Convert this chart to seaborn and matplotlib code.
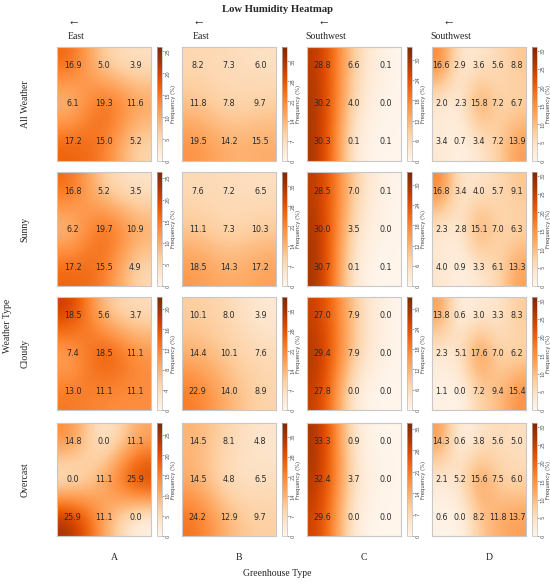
import numpy as np
import pandas as pd
import matplotlib
matplotlib.use("Agg")
import matplotlib.pyplot as plt
import seaborn as sns

# ---------------- data ----------------
weather_types = ["All Weather", "Sunny", "Cloudy", "Overcast"]
greenhouse_types = ["A", "B", "C", "D"]
directions = ["East", "East", "Southwest", "Southwest"]

freq_A = [
    [[16.9, 5.0, 3.9], [6.1, 19.3, 11.6], [17.2, 15.0, 5.2]],
    [[16.8, 5.2, 3.5], [6.2, 19.7, 10.9], [17.2, 15.5, 4.9]],
    [[18.5, 5.6, 3.7], [7.4, 18.5, 11.1], [13.0, 11.1, 11.1]],
    [[14.8, 0.0, 11.1], [0.0, 11.1, 25.9], [25.9, 11.1, 0.0]],
]
freq_B = [
    [[8.2, 7.3, 6.0], [11.8, 7.8, 9.7], [19.5, 14.2, 15.5]],
    [[7.6, 7.2, 6.5], [11.1, 7.3, 10.3], [18.5, 14.3, 17.2]],
    [[10.1, 8.0, 3.9], [14.4, 10.1, 7.6], [22.9, 14.0, 8.9]],
    [[14.5, 8.1, 4.8], [14.5, 4.8, 6.5], [24.2, 12.9, 9.7]],
]
freq_C = [
    [[28.8, 6.6, 0.1], [30.2, 4.0, 0.0], [30.3, 0.1, 0.1]],
    [[28.5, 7.0, 0.1], [30.0, 3.5, 0.0], [30.7, 0.1, 0.1]],
    [[27.0, 7.9, 0.0], [29.4, 7.9, 0.0], [27.8, 0.0, 0.0]],
    [[33.3, 0.9, 0.0], [32.4, 3.7, 0.0], [29.6, 0.0, 0.0]],
]
freq_D = [
    [[16.6, 2.9, 3.6, 5.6, 8.8], [2.0, 2.3, 15.8, 7.2, 6.7], [3.4, 0.7, 3.4, 7.2, 13.9]],
    [[16.8, 3.4, 4.0, 5.7, 9.1], [2.3, 2.8, 15.1, 7.0, 6.3], [4.0, 0.9, 3.3, 6.1, 13.3]],
    [[13.8, 0.6, 3.0, 3.3, 8.3], [2.3, 5.1, 17.6, 7.0, 6.2], [1.1, 0.0, 7.2, 9.4, 15.4]],
    [[14.3, 0.6, 3.8, 5.6, 5.0], [2.1, 5.2, 15.6, 7.5, 6.0], [0.6, 0.0, 8.2, 11.8, 13.7]],
]
freq = {"A": freq_A, "B": freq_B, "C": freq_C, "D": freq_D}

# colour-scale ranges and colorbar ticks per panel (style)
vmax_tab = {
    "A": [26.0, 26.4, 22.4, 28.0],
    "B": [40.0, 40.0, 40.0, 40.0],
    "C": [33.8, 33.8, 33.4, 37.0],
    "D": [31.0, 31.0, 31.0, 31.0],
}
tick_tab = {
    "A": [np.arange(0, 26, 5), np.arange(0, 26, 5), np.arange(0, 21, 4), np.arange(0, 26, 5)],
    "B": [np.arange(0, 36, 7)] * 4,
    "C": [np.arange(0, 31, 6)] * 3 + [np.arange(0, 36, 7)],
    "D": [np.arange(0, 31, 5)] * 4,
}

# ---------------- figure ----------------
sns.set_theme(style="white")
plt.rcParams["font.family"] = ["DejaVu Sans"]
SERIF = ["Liberation Serif", "DejaVu Serif", "DejaVu Sans"]

W, H = 550, 582
fig = plt.figure(figsize=(W / 100, H / 100), dpi=100)


def rect(l, t, r, b):
    return [l / W, 1 - b / H, (r - l) / W, (b - t) / H]


row_tb = [(47, 161), (172, 286), (297, 410), (423, 536)]
col_l = [57, 182, 307, 432]
hm_w = 94

for j, g in enumerate(greenhouse_types):
    for i, w in enumerate(weather_types):
        t, b = row_tb[i]
        l = col_l[j]
        ax = fig.add_axes(rect(l, t, l + hm_w, b))
        cax = fig.add_axes(rect(l + 100, t, l + 105, b))
        arr = np.array(freq[g][i], dtype=float)
        nr, nc = arr.shape
        vmax = vmax_tab[g][i]
        df = pd.DataFrame(arr)
        sns.heatmap(df, ax=ax, cmap="Oranges", vmin=0, vmax=vmax, annot=True,
                    fmt=".1f", cbar=False, xticklabels=False, yticklabels=False,
                    annot_kws=dict(fontsize=5.8, color="#2a2a2a"))
        ax.collections[0].set_visible(False)
        im = ax.imshow(arr, cmap="Oranges", vmin=0, vmax=vmax,
                       interpolation="bicubic", extent=(0, nc, nr, 0),
                       aspect="auto", zorder=0)
        ax.set_xlim(0, nc)
        ax.set_ylim(nr, 0)
        ax.set_xlabel("")
        ax.set_ylabel("")
        for sp in ax.spines.values():
            sp.set_visible(True)
            sp.set_color("#c8c8c8")
            sp.set_linewidth(0.8)

        cb = fig.colorbar(im, cax=cax)
        cb.set_ticks(tick_tab[g][i])
        cb.ax.tick_params(labelsize=3.8, length=1.5, width=0.4, pad=0.8,
                          colors="#555555")
        for lbl in cb.ax.get_yticklabels():
            lbl.set_rotation(90)
            lbl.set_va("center")
        cb.set_label("Frequency (%)", fontsize=3.8, labelpad=0.5, color="#444444")
        cb.outline.set_edgecolor("#bbbbbb")
        cb.outline.set_linewidth(0.5)

        if i == 0:
            ax.text(0.2, 1.05, directions[j], transform=ax.transAxes,
                    ha="center", va="bottom", fontsize=7, family=SERIF)
            ax.text(0.18, 1.16, "\u2190", transform=ax.transAxes,
                    ha="center", va="bottom", fontsize=9, family=SERIF)

# row labels
for i, w in enumerate(weather_types):
    t, b = row_tb[i]
    fig.text(25 / W, 1 - (t + b) / 2 / H, w, rotation=90, ha="center",
             va="center", fontsize=7, family=SERIF)
# column labels
for j, g in enumerate(greenhouse_types):
    fig.text((114 + 125 * j) / W, 1 - 558 / H, g, ha="center", va="center",
             fontsize=7, family=SERIF)

fig.text(8 / W, 1 - 326 / H, "Weather Type", rotation=90, ha="center",
         va="center", fontsize=7, family=SERIF)
fig.text(277 / W, 1 - 573 / H, "Greenhouse Type", ha="center", va="center",
         fontsize=7, family=SERIF)
fig.text(277 / W, 1 - 9 / H, "Low Humidity Heatmap", ha="center", va="center",
         fontsize=7.7, fontweight="bold", family=SERIF)

fig.savefig("out.png", dpi=100)
